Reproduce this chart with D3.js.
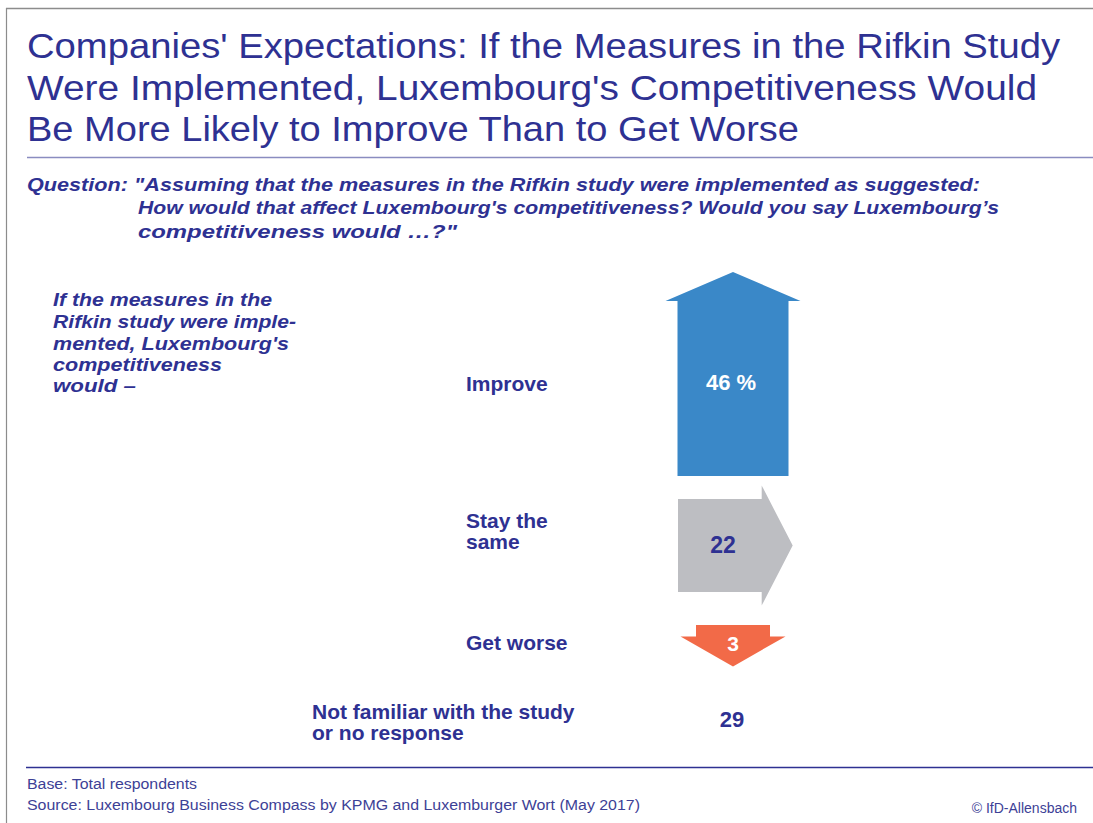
<!DOCTYPE html>
<html>
<head>
<meta charset="utf-8">
<script src="https://cdn.jsdelivr.net/npm/d3@7"></script>
<style>
  html, body { margin: 0; padding: 0; background: #fff; }
  svg { display: block; }
</style>
</head>
<body>
<svg id="chart" width="1093" height="823"></svg>
<script>
// ---- data ----
const categories = ["Improve", "Stay the same", "Get worse", "Not familiar with the study or no response"];
const categoryLines = [["Improve"], ["Stay the", "same"], ["Get worse"], ["Not familiar with the study", "or no response"]];
const values = [46, 22, 3, 29];
const valueLabels = ["46 %", "22", "3", "29"];
const directions = ["up", "right", "down", "none"];

const titleLines = [
  "Companies' Expectations: If the Measures in the Rifkin Study",
  "Were Implemented, Luxembourg's Competitiveness Would",
  "Be More Likely to Improve Than to Get Worse"
];
const questionLines = [
  "Question: \"Assuming that the measures in the Rifkin study were implemented as suggested:",
  "How would that affect Luxembourg's competitiveness? Would you say Luxembourg\u2019s",
  "competitiveness would \u2026?\""
];
const sideNoteLines = [
  "If the measures in the",
  "Rifkin study were imple-",
  "mented, Luxembourg's",
  "competitiveness",
  "would \u2013"
];
const footerLines = [
  "Base: Total respondents",
  "Source: Luxembourg Business Compass by KPMG and Luxemburger Wort (May 2017)"
];
const credit = "\u00a9 IfD-Allensbach";

// ---- styles ----
const navy = "#2e3192";
const sans = "'Liberation Sans', Arial, sans-serif";
const arrowFill = { up: "#3a88c8", right: "#bdbec2", down: "#f26a48" };
const valueFill = { up: "#ffffff", right: navy, down: "#ffffff", none: navy };
// body/head widths and head length per arrow direction
const arrowShape = {
  up:    { bodyW: 111, headW: 135, headL: 29 },
  right: { bodyW: 93,  headW: 120, headL: 31 },
  down:  { bodyW: 74,  headW: 105, headL: 30 }
};
// row layout: where each arrow starts and where its texts sit
const rowLayout = [
  { ax: 733, ay: 476, labelX: 466, labelY: [391],      valueX: 731, valueY: 390, valueSize: 22 },
  { ax: 678, ay: 545.5, labelX: 466, labelY: [528, 549], valueX: 723, valueY: 553, valueSize: 23 },
  { ax: 733, ay: 625, labelX: 466, labelY: [650],      valueX: 733, valueY: 651, valueSize: 21 },
  { ax: 733, ay: 0,   labelX: 312, labelY: [719, 740], valueX: 732, valueY: 727, valueSize: 22 }
];

const svg = d3.select("#chart");

// frame: top rule and left border
svg.append("line").attr("x1", 6).attr("x2", 1093).attr("y1", 8.5).attr("y2", 8.5)
  .attr("stroke", "#8c8c8c").attr("stroke-width", 1.5);
svg.append("line").attr("x1", 6.5).attr("x2", 6.5).attr("y1", 8).attr("y2", 823)
  .attr("stroke", "#8c8c8c").attr("stroke-width", 1.2);

// title
const titleBase = [58, 100, 141];
const titleWidths = [1033, 1010, 772];
svg.append("g").selectAll("text").data(titleLines).join("text")
  .attr("x", 27).attr("y", (d, i) => titleBase[i])
  .attr("textLength", (d, i) => titleWidths[i])
  .attr("lengthAdjust", "spacingAndGlyphs")
  .attr("font-family", sans).attr("font-size", 35).attr("fill", navy)
  .text(d => d);
svg.append("line").attr("x1", 27).attr("x2", 1093).attr("y1", 157.5).attr("y2", 157.5)
  .attr("stroke", "#8a8cc0").attr("stroke-width", 1.5);

// question
const qBase = [191, 214, 238];
const qX = [27, 138, 138];
const qWidths = [953, 861, 319];
svg.append("g").selectAll("text").data(questionLines).join("text")
  .attr("x", (d, i) => qX[i]).attr("y", (d, i) => qBase[i])
  .attr("textLength", (d, i) => qWidths[i])
  .attr("lengthAdjust", "spacingAndGlyphs")
  .attr("font-family", sans).attr("font-size", 18).attr("font-weight", "bold")
  .attr("font-style", "italic").attr("fill", navy)
  .text(d => d);

// side note
const sBase = [306, 328, 350, 371, 392];
const sWidths = [219, 243, 236, 169, 83];
svg.append("g").selectAll("text").data(sideNoteLines).join("text")
  .attr("x", 53).attr("y", (d, i) => sBase[i])
  .attr("textLength", (d, i) => sWidths[i])
  .attr("lengthAdjust", "spacingAndGlyphs")
  .attr("font-family", sans).attr("font-size", 19).attr("font-weight", "bold")
  .attr("font-style", "italic").attr("fill", navy)
  .text(d => d);

// arrow body length is proportional to the share
const bodyLen = d3.scaleLinear().domain([0, d3.max(values)]).range([0, 175]);

function arrowPath(dir, ax, ay, v) {
  const s = arrowShape[dir];
  const L = bodyLen(v);
  const p = d3.path();
  const bw = s.bodyW / 2, hw = s.headW / 2;
  if (dir === "up") {
    p.moveTo(ax - bw, ay); p.lineTo(ax - bw, ay - L); p.lineTo(ax - hw, ay - L);
    p.lineTo(ax, ay - L - s.headL); p.lineTo(ax + hw, ay - L); p.lineTo(ax + bw, ay - L);
    p.lineTo(ax + bw, ay);
  } else if (dir === "down") {
    p.moveTo(ax - bw, ay); p.lineTo(ax - bw, ay + L); p.lineTo(ax - hw, ay + L);
    p.lineTo(ax, ay + L + s.headL); p.lineTo(ax + hw, ay + L); p.lineTo(ax + bw, ay + L);
    p.lineTo(ax + bw, ay);
  } else {
    p.moveTo(ax, ay - bw); p.lineTo(ax + L, ay - bw); p.lineTo(ax + L, ay - hw);
    p.lineTo(ax + L + s.headL, ay); p.lineTo(ax + L, ay + hw); p.lineTo(ax + L, ay + bw);
    p.lineTo(ax, ay + bw);
  }
  p.closePath();
  return p.toString();
}

const rows = categories.map((c, i) => ({
  category: c, lines: categoryLines[i], value: values[i], label: valueLabels[i],
  dir: directions[i], lay: rowLayout[i]
}));

const g = svg.append("g");

// arrows
g.selectAll("path.arrow").data(rows.filter(d => d.dir !== "none")).join("path")
  .attr("class", "arrow")
  .attr("d", d => arrowPath(d.dir, d.lay.ax, d.lay.ay, d.value))
  .attr("fill", d => arrowFill[d.dir]);

// category labels
rows.forEach(d => {
  g.append("g").selectAll("text").data(d.lines).join("text")
    .attr("x", d.lay.labelX).attr("y", (t, i) => d.lay.labelY[i])
    .attr("font-family", sans).attr("font-size", 21).attr("font-weight", "bold")
    .attr("fill", navy).text(t => t);
});

// value labels
g.selectAll("text.value").data(rows).join("text")
  .attr("class", "value")
  .attr("x", d => d.lay.valueX).attr("y", d => d.lay.valueY)
  .attr("text-anchor", "middle")
  .attr("font-family", sans).attr("font-size", d => d.lay.valueSize).attr("font-weight", "bold")
  .attr("fill", d => valueFill[d.dir]).text(d => d.label);

// footer
svg.append("line").attr("x1", 26).attr("x2", 1093).attr("y1", 767.5).attr("y2", 767.5)
  .attr("stroke", navy).attr("stroke-width", 1.3);
const fBase = [789, 810];
const fWidths = [170, 613];
svg.append("g").selectAll("text").data(footerLines).join("text")
  .attr("x", 27).attr("y", (d, i) => fBase[i])
  .attr("textLength", (d, i) => fWidths[i])
  .attr("lengthAdjust", "spacingAndGlyphs")
  .attr("font-family", sans).attr("font-size", 14).attr("fill", "#3d4196")
  .text(d => d);
svg.append("text").attr("x", 1077).attr("y", 813).attr("text-anchor", "end")
  .attr("font-family", sans).attr("font-size", 14).attr("fill", "#3d4196")
  .text(credit);
</script>
</body>
</html>
